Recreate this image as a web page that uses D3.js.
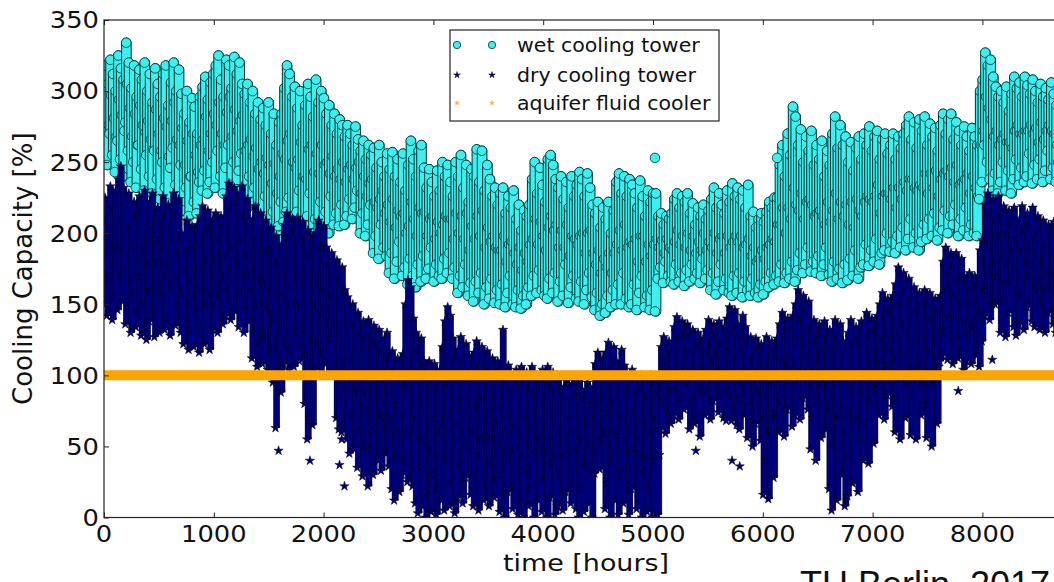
<!DOCTYPE html>
<html><head><meta charset="utf-8">
<script src="https://cdn.jsdelivr.net/npm/d3@7"></script>
<style>body{margin:0;background:#fff}svg{display:block}</style>
</head><body><svg id="chart" width="1054" height="582"></svg>
<script>
// values: 3 samples per day (hours 2, 10, 18), day 0..364
const samplesPerDay = 3;
const wetCoolingTower = [
262,318,290, 248,305,276, 270,322,297, 255,312,281, 243,300,268, 265,325,294, 252,316,283, 240,308,272, 278,334,305, 258,320,288,
236,302,268, 250,318,284, 232,296,262, 262,315,290, 245,308,276, 230,320,271, 255,300,279, 240,312,266, 228,292,259, 258,316,287,
238,305,270, 224,296,258, 250,312,281, 232,318,275, 221,290,254, 246,306,279, 260,320,292, 234,300,266, 226,315,262, 248,298,274,
216,284,248, 232,300,265, 212,278,240, 240,295,270, 222,289,255, 214,270,243, 236,296,262, 230,303,266, 244,310,282, 228,294,258,
236,306,270, 250,312,284, 232,318,276, 258,325,292, 240,308,270, 228,296,262, 246,322,285, 262,318,296, 234,302,268, 250,324,287,
231,312,272, 244,320,279, 256,305,283, 225,298,258, 218,305,262, 240,292,266, 222,300,254, 232,284,260, 207,292,245, 218,280,250,
205,288,242, 226,276,253, 210,292,248, 196,270,235, 215,284,249, 192,262,228, 205,278,240, 222,284,256, 208,302,252, 215,318,265,
225,312,270, 206,296,250, 198,303,246, 215,288,252, 230,300,264, 202,276,240, 196,290,238, 212,305,259, 228,296,262, 200,282,243,
210,308,256, 195,292,242, 222,300,262, 204,295,248, 215,284,250, 200,290,242, 226,276,254, 206,284,240, 214,270,245, 205,280,238,
220,276,250, 206,268,236, 212,276,245, 224,270,248, 210,262,238, 218,275,246, 230,266,250, 200,258,228, 214,265,240, 198,252,226,
206,262,235, 220,255,238, 186,260,222, 198,246,218, 182,262,224, 206,250,230, 190,240,214, 184,256,220, 172,245,208, 186,257,224,
168,240,204, 180,252,216, 194,236,212, 170,256,214, 176,230,200, 164,248,205, 182,265,222, 170,252,210, 162,240,198, 178,258,218,
166,262,214, 184,246,215, 168,232,198, 175,245,210, 190,236,212, 166,226,196, 178,244,208, 170,230,200, 168,250,206, 182,240,212,
172,248,210, 186,236,210, 168,226,196, 176,250,214, 158,240,200, 170,255,212, 162,232,196, 178,248,214, 156,222,188, 165,245,205,
152,240,196, 166,259,212, 158,236,198, 172,258,216, 150,230,190, 162,248,204, 154,238,194, 168,226,198, 151,232,190, 160,220,188,
150,228,188, 164,232,198, 148,214,180, 158,226,192, 170,218,194, 150,230,186, 148,210,178, 160,220,190, 147,202,174, 156,216,186,
150,212,180, 162,220,192, 156,238,196, 170,250,210, 158,228,192, 174,246,208, 160,234,198, 156,222,188, 154,252,204, 168,255,212,
158,248,202, 172,238,206, 152,232,190, 166,240,202, 156,224,190, 178,236,206, 151,218,184, 162,240,198, 170,226,196, 154,234,192,
152,243,198, 166,238,200, 150,226,186, 160,242,200, 172,232,202, 155,220,186, 146,214,178, 158,222,188, 142,204,172, 150,218,182,
144,210,176, 156,222,186, 148,200,172, 160,216,186, 150,236,192, 164,242,202, 150,228,188, 172,240,206, 154,226,190, 148,238,194,
150,234,192, 164,228,196, 146,218,180, 158,237,198, 170,226,198, 148,212,180, 156,230,192, 146,222,184, 160,228,192, 145,228,196,
168,212,190, 176,214,195, 165,206,186, 180,212,196, 170,210,190, 166,214,188, 164,224,194, 178,228,202, 166,218,192, 172,226,198,
163,222,190, 174,228,200, 166,214,188, 178,221,198, 168,206,186, 172,218,194, 165,212,188, 182,220,200, 168,210,188, 174,216,194,
160,224,190, 172,232,200, 157,218,186, 166,228,196, 178,220,198, 160,214,186, 168,230,198, 158,222,190, 156,235,194, 170,226,198,
158,232,194, 172,224,198, 155,230,190, 166,218,192, 160,234,196, 156,212,184, 168,215,190, 158,204,180, 155,210,182, 164,214,188,
157,208,182, 166,215,190, 162,222,192, 172,218,196, 164,225,194, 170,225,206, 166,248,206, 178,262,218, 165,240,200, 172,270,218,
168,255,210, 180,289,232, 166,282,220, 174,262,216, 186,273,228, 172,250,210, 178,268,222, 190,258,224, 173,272,220, 180,248,212,
172,262,214, 184,252,216, 170,265,212, 178,240,206, 190,258,222, 171,248,208, 166,270,216, 180,282,228, 168,260,210, 175,276,222,
165,262,212, 178,268,220, 167,250,206, 182,264,222, 170,244,204, 188,260,224, 168,268,216, 176,252,212, 178,270,222, 192,262,226,
177,275,224, 188,258,222, 180,268,226, 196,272,234, 178,252,214, 186,266,226, 188,270,228, 200,256,228, 187,262,224, 194,270,232,
186,252,218, 198,268,232, 190,260,224, 204,270,236, 188,276,230, 196,282,238, 210,266,238, 190,278,232, 200,260,230, 188,280,234,
194,272,232, 206,282,242, 196,262,228, 210,277,242, 198,268,232, 214,274,244, 195,258,226, 204,276,238, 202,284,242, 216,270,244,
200,280,240, 212,284,246, 206,266,236, 220,278,248, 198,272,234, 210,262,236, 202,275,238, 218,268,242, 198,258,228, 206,274,240,
200,268,232, 198,262,226, 224,300,262, 236,308,272, 262,327,296, 250,318,288, 238,322,280, 230,310,268, 242,303,272, 228,296,262,
236,300,266, 250,292,270, 230,303,264, 244,286,264, 228,298,260, 238,310,272, 252,302,276, 234,306,270, 246,296,270, 236,310,272,
240,304,272, 256,298,276, 235,308,270, 248,300,274, 238,292,264, 252,305,278, 236,296,266, 244,302,272, 258,294,276, 238,306,272, 246,298,270, 236,290,262, 250,304,276, 240,296,268, 255,302,278
];
const wetOutlierHours  = [5018, 6130];
const wetOutlierValues = [253, 253];

const dryCoolingTower = [
150,225,186, 142,210,172, 165,233,198, 139,218,178, 155,230,190, 146,238,192, 170,247,210, 152,232,188, 136,220,176, 148,228,186,
130,205,168, 158,222,190, 134,212,172, 145,226,182, 128,215,170, 150,230,188, 125,200,160, 138,222,178, 160,228,195, 127,210,166,
142,218,180, 130,196,162, 155,226,190, 132,212,170, 140,220,178, 128,204,164, 162,228,196, 135,214,172, 148,224,186, 130,200,162,
122,196,158, 140,209,174, 118,188,150, 132,205,168, 120,192,156, 145,206,176, 116,212,162, 134,219,176, 122,200,160, 150,216,182,
118,204,158, 132,210,170, 148,214,182, 130,196,164, 156,212,186, 136,205,170, 142,226,184, 160,235,198, 139,218,176, 152,232,192,
145,222,182, 134,228,180, 158,233,196, 130,212,170, 146,224,184, 138,206,170, 112,210,160, 130,219,174, 106,196,150, 124,214,168,
108,200,152, 126,209,166, 104,188,146, 118,204,160, 95,190,140, 63,198,120, 92,180,130, 88,192,136, 108,206,156, 124,214,170,
104,198,150, 118,210,162, 106,202,152, 130,211,170, 110,196,150, 120,208,164, 80,196,130, 55,202,115, 70,185,110, 65,198,126,
104,200,150, 122,209,166, 100,190,144, 116,205,160, 108,190,148, 101,178,138, 126,186,156, 104,172,136, 70,181,120, 62,168,96,
60,176,110, 66,160,100, 55,155,102, 45,140,90, 72,150,112, 48,136,92, 35,144,88, 60,130,96, 29,138,80, 50,126,88,
22,139,76, 48,128,88, 30,135,82, 62,122,94, 40,132,86, 33,118,74, 70,126,98, 45,130,88, 36,112,72, 20,117,66,
12,104,58, 42,112,80, 18,98,60, 30,115,72, 40,150,96, 25,167,92, 60,162,110, 22,140,80, 10,130,70, 3,118,58,
35,126,82, 8,110,56, 0,106,52, 15,110,64, 4,96,48, 30,108,70, 2,92,44, 20,104,62, 12,120,66, 5,138,70,
40,148,94, 8,142,76, 25,126,74, 3,112,58, 14,118,66, 36,127,82, 10,110,60, 28,122,76, 50,114,84, 16,104,60,
8,116,62, 30,124,78, 5,108,56, 44,120,84, 12,100,56, 20,117,68, 8,106,58, 38,112,76, 14,98,56, 26,110,68,
4,104,52, 30,132,78, 0,96,46, 18,107,62, 40,100,72, 6,90,48, 22,104,64, 2,94,50, 10,106,58, 0,96,44,
34,102,70, 8,92,52, 20,106,64, 0,88,42, 46,100,76, 12,96,56, 4,104,50, 26,98,64, 0,106,48, 14,94,56,
38,102,72, 2,90,44, 8,97,52, 30,92,62, 5,86,44, 18,96,58, 44,94,70, 10,82,46, 24,96,60, 6,88,48,
0,97,48, 20,90,56, 4,84,42, 36,95,66, 10,92,52, 0,80,38, 31,108,70, 45,116,80, 34,100,66, 55,112,84,
6,116,60, 24,123,74, 0,104,50, 40,120,82, 12,110,60, 2,100,48, 30,118,72, 10,107,58, 34,100,68, 2,92,46,
20,104,62, 48,98,74, 6,88,46, 14,100,56, 0,92,44, 32,98,66, 4,86,42, 22,100,60, 0,94,46, 40,96,70,
2,88,44, 62,120,92, 80,127,104, 59,110,86, 74,124,100, 66,116,90, 72,134,102, 90,141,116, 69,126,98, 84,138,110,
76,130,104, 95,136,118, 62,128,96, 80,132,108, 66,118,84, 70,130,100, 57,122,90, 88,126,106, 72,132,104, 90,139,116,
69,124,96, 82,136,110, 100,130,116, 74,138,106, 86,122,104, 70,134,100, 68,140,104, 88,148,118, 68,130,86, 76,146,112,
65,136,100, 62,128,84, 94,142,118, 72,134,104, 56,124,90, 78,127,102, 50,112,82, 66,126,96, 88,118,104, 54,122,88,
16,120,70, 40,127,86, 13,110,62, 60,124,94, 28,116,74, 70,126,100, 60,136,98, 82,144,112, 57,128,92, 76,140,108,
96,132,114, 64,142,104, 72,150,110, 94,160,126, 69,140,104, 84,156,120, 102,146,124, 76,152,114, 48,134,92, 70,139,104,
40,124,82, 88,136,112, 56,130,94, 100,138,118, 62,126,94, 20,132,76, 5,120,62, 50,139,94, 12,128,70, 72,136,104,
30,124,78, 8,116,60, 15,130,72, 44,139,92, 24,122,74, 68,134,100, 18,126,70, 54,138,96, 40,136,88, 66,144,104,
38,128,84, 80,140,110, 52,132,92, 90,142,116, 72,150,110, 96,158,126, 69,142,104, 86,154,120, 108,146,126, 78,156,116,
60,164,112, 84,176,130, 55,150,102, 100,172,136, 70,160,116, 92,168,130, 58,154,106, 86,162,124, 55,144,98, 104,158,130,
72,150,110, 94,160,126, 56,150,104, 80,158,118, 50,140,96, 98,154,126, 66,146,106, 110,156,132, 114,180,148, 130,190,160,
111,172,142, 140,186,162, 108,178,142, 124,186,156, 112,168,128, 116,182,150, 104,170,138, 110,166,138, 128,172,150, 108,160,134,
136,170,152, 114,164,140, 106,188,146, 124,195,160, 142,220,180, 160,228,194, 139,214,176, 150,224,170, 150,210,180, 170,226,198,
130,212,170, 152,219,186, 127,200,164, 144,216,180, 166,208,188, 134,218,176, 128,196,160, 136,210,172, 156,219,188, 132,202,166,
148,214,180, 170,206,188, 138,218,178, 134,196,164, 160,212,186, 132,204,168, 150,209,180, 130,192,160, 144,206,174, 162,200,182, 136,208,172, 130,188,158, 154,204,178, 140,196,168, 132,206,170
];
const dryOutlierHours  = [1590, 1876, 2145, 2165, 2190, 5390, 5720, 5790, 7780, 8090];
const dryOutlierValues = [47,   40,   37,   55,   22,   47,   40,   36,   89,   111];

const aquiferFluidCooler = 100;          // constant capacity over the year
const aquiferHours = [0, 8760];
const xTicks = [0,1000,2000,3000,4000,5000,6000,7000,8000];
const yTicks = [0,50,100,150,200,250,300,350];
const legendLabels = ["wet cooling tower","dry cooling tower","aquifer fluid cooler"];
const xTitle = "time [hours]";
const yTitle = "Cooling Capacity [%]";
const credit = "TU Berlin, 2017";

const svg = d3.select("#chart");
const L = 104, T = 20, B = 517.5, R = 104 + 9000 * 0.1098;
const x = d3.scaleLinear().domain([0, 9000]).range([L, R]);
const y = d3.scaleLinear().domain([0, 350]).range([B, T]);
const FONT = "DejaVu Sans, Bitstream Vera Sans, sans-serif";
const WET_FILL = "#3cf0f0", WET_EDGE = "#073030", DRY_FILL = "#00007a";

svg.append("defs").append("clipPath").attr("id","plotclip")
  .append("rect").attr("x",L).attr("y",T).attr("width",R-L).attr("height",B-T);
const plot = svg.append("g").attr("clip-path","url(#plotclip)");

// group the samples per day: the hourly points sweep the whole daily range
function byDay(arr){
  const out = [];
  for (let k = 0; k < arr.length / samplesPerDay; k++) {
    const s = arr.slice(k*samplesPerDay, (k+1)*samplesPerDay);
    out.push({day:k, lo:d3.min(s), hi:d3.max(s),
      samples:s.map((v,j)=>({h:k*24 + j*8 + 2, v}))});
  }
  return out;
}
const wetDays = byDay(wetCoolingTower);
const dryDays = byDay(dryCoolingTower);

const rW = 4.8;
const wetG = plot.append("g").selectAll("g").data(wetDays).join("g");
wetG.append("rect")
  .attr("x", d=>x(d.day*24+12)-rW).attr("width", 2*rW)
  .attr("y", d=>y(d.hi)-rW).attr("height", d=>y(d.lo)-y(d.hi)+2*rW).attr("rx", rW)
  .attr("fill", WET_FILL).attr("stroke", WET_EDGE).attr("stroke-width", 1);
wetG.selectAll("circle").data(d=>d.samples).join("circle")
  .attr("cx", d=>x(d.h)).attr("cy", d=>y(d.v)).attr("r", rW)
  .attr("fill", WET_FILL).attr("stroke", WET_EDGE).attr("stroke-width", 0.8);
plot.append("g").selectAll("circle").data(wetOutlierHours).join("circle")
  .attr("cx", (h)=>x(h)).attr("cy", (h,i)=>y(wetOutlierValues[i])).attr("r", rW)
  .attr("fill", WET_FILL).attr("stroke", WET_EDGE).attr("stroke-width", 0.8);

const star = d3.symbol().type(d3.symbolStar).size(27);
const dryG = plot.append("g").selectAll("g").data(dryDays).join("g");
dryG.append("rect")
  .attr("x", d=>x(d.day*24+12)-3.2).attr("width", 6.4)
  .attr("y", d=>y(d.hi)).attr("height", d=>y(d.lo)-y(d.hi))
  .attr("fill", DRY_FILL).attr("stroke", "#000").attr("stroke-width", 0.35);
dryG.selectAll("path").data(d=>d.samples).join("path")
  .attr("transform", d=>`translate(${x(d.h)},${y(d.v)})`).attr("d", star)
  .attr("fill", DRY_FILL).attr("stroke", "#000").attr("stroke-width", 0.5);
plot.append("g").selectAll("path").data(dryOutlierHours).join("path")
  .attr("transform", (h,i)=>`translate(${x(h)},${y(dryOutlierValues[i])})`).attr("d", star)
  .attr("fill", DRY_FILL).attr("stroke", "#000").attr("stroke-width", 0.5);

plot.append("line")
  .attr("x1", x(aquiferHours[0])).attr("x2", x(aquiferHours[1]))
  .attr("y1", y(aquiferFluidCooler)).attr("y2", y(aquiferFluidCooler))
  .attr("stroke", "#fca400").attr("stroke-width", 10);

// frame
svg.append("rect").attr("x",L).attr("y",T).attr("width",R-L).attr("height",B-T)
  .attr("fill","none").attr("stroke","#222").attr("stroke-width",1.2);

// axes (inward ticks)
const axG = svg.append("g");
axG.append("g").attr("transform",`translate(0,${B})`)
  .call(d3.axisBottom(x).tickValues(xTicks).tickSize(-5).tickFormat(""))
  .call(g=>{g.select(".domain").remove(); g.selectAll("line").attr("stroke","#222");});
axG.append("g").attr("transform",`translate(0,${T})`)
  .call(d3.axisTop(x).tickValues(xTicks).tickSize(-5).tickFormat(""))
  .call(g=>{g.select(".domain").remove(); g.selectAll("line").attr("stroke","#222");});
axG.append("g").attr("transform",`translate(${L},0)`)
  .call(d3.axisLeft(y).tickValues(yTicks).tickSize(-5).tickFormat(""))
  .call(g=>{g.select(".domain").remove(); g.selectAll("line").attr("stroke","#222");});

function stext(px, py, str, size, sx, anchor, fam){
  return svg.append("text").attr("transform",`translate(${px},${py}) scale(${sx},1)`)
    .attr("text-anchor",anchor).attr("font-family",fam||FONT).attr("font-size",size)
    .attr("fill","#111").text(str);
}
yTicks.forEach(v=>stext(99, y(v)+8.4, String(v), 23, 1.12, "end"));
xTicks.forEach(v=>stext(x(v), 542, String(v), 23, 1.12, "middle"));

stext(586, 571, xTitle, 23, 1.17, "middle");
svg.append("text").attr("transform",`translate(32,${(T+B)/2}) rotate(-90)`)
  .attr("text-anchor","middle").attr("font-family",FONT).attr("font-size",26)
  .attr("fill","#111").text(yTitle);

// legend
const lg = svg.append("g");
lg.append("rect").attr("x",450).attr("y",30).attr("width",269).attr("height",91)
  .attr("fill","#fff").attr("stroke","#222").attr("stroke-width",1.2);
const rowsY = [45, 75, 103];
const mx = [457, 492];
mx.forEach(m=>{
  lg.append("circle").attr("cx",m).attr("cy",rowsY[0]).attr("r",3.7)
    .attr("fill",WET_FILL).attr("stroke",WET_EDGE).attr("stroke-width",0.8);
  lg.append("path").attr("transform",`translate(${m},${rowsY[1]})`)
    .attr("d", d3.symbol().type(d3.symbolStar).size(14)).attr("fill",DRY_FILL).attr("stroke","#000").attr("stroke-width",0.4);
  lg.append("path").attr("transform",`translate(${m},${rowsY[2]})`)
    .attr("d", d3.symbol().type(d3.symbolStar).size(9)).attr("fill","#fcae3a").attr("stroke","#f5c070").attr("stroke-width",0.4);
});
legendLabels.forEach((t,i)=>stext(517, rowsY[i]+6.5, t, 19, 1.08, "start"));

// credit (cut at the bottom edge, as in the reference)
svg.append("text").attr("x",800).attr("y",597).attr("font-family","Liberation Sans, Arial, sans-serif")
  .attr("font-size",36).attr("fill","#111").text(credit);
</script>
</body></html>
